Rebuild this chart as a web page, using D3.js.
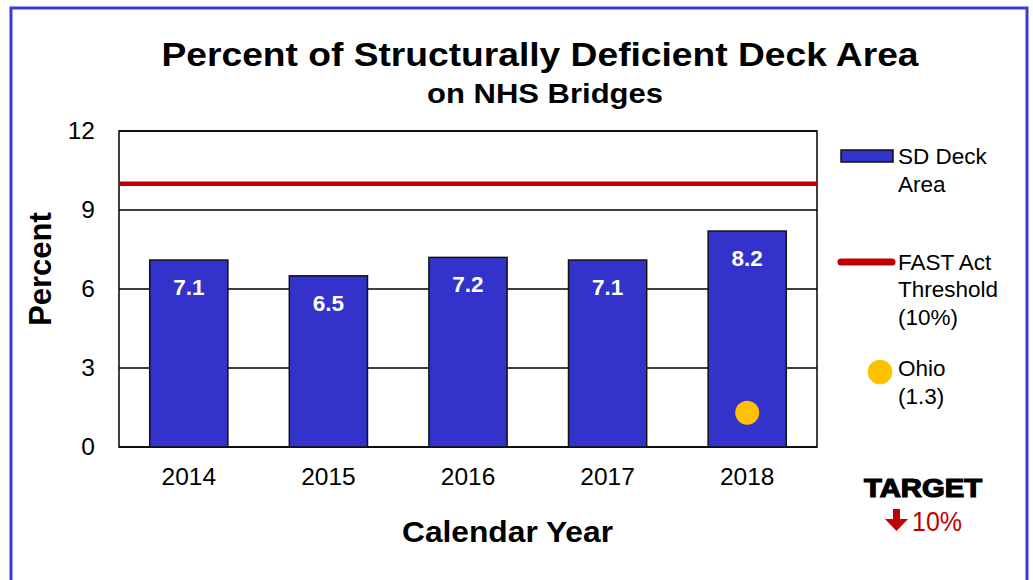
<!DOCTYPE html>
<html lang="en">
<head>
    <meta charset="UTF-8">
    <title>SD Deck Area</title>
    <style>
        body {
          margin: 0;
          background: #fff;
        }
        svg, svg text {
          font-family: "Liberation Sans", Arial, Helvetica, sans-serif;
        }
        .tick text { font-size: 24.5px; fill: #000; }
        .grid line { stroke: #000; stroke-width: 1.5px; }
    </style>
</head>
<body>
    <script src="https://d3js.org/d3.v7.min.js"></script>
    <script>
        var years = ["2014", "2015", "2016", "2017", "2018"];
        var sdDeckArea = [7.1, 6.5, 7.2, 7.1, 8.2];
        var ohio = [{year: "2018", value: 1.3}];
        var threshold = 10;
        var yTicks = [0, 3, 6, 9, 12];

        var width = 1033,
            height = 580,
            plot = {left: 119, right: 817, top: 131, bottom: 447};

        var svg = d3.select("body").append("svg")
            .attr("width", width)
            .attr("height", height);

        // outer frame
        svg.append("rect")
            .attr("x", 11).attr("y", 8)
            .attr("width", 1016).attr("height", 600)
            .attr("fill", "none")
            .attr("stroke", "#3a3ad4")
            .attr("stroke-width", 3);

        var x = d3.scaleBand()
            .domain(years)
            .range([plot.left, plot.right])
            .paddingInner(0.44)
            .paddingOuter(0.22);

        var y = d3.scaleLinear()
            .domain([0, 12])
            .range([plot.bottom, plot.top]);

        // gridlines
        svg.append("g")
            .attr("class", "grid")
          .selectAll("line")
          .data(yTicks)
          .join("line")
            .attr("x1", plot.left).attr("x2", plot.right)
            .attr("y1", function(d) { return y(d); })
            .attr("y2", function(d) { return y(d); });

        svg.append("rect")
            .attr("x", plot.left).attr("y", plot.top)
            .attr("width", plot.right - plot.left)
            .attr("height", plot.bottom - plot.top)
            .attr("fill", "none")
            .attr("stroke", "#000")
            .attr("stroke-width", 1.5);

        // threshold line
        svg.append("line")
            .attr("x1", plot.left).attr("x2", plot.right)
            .attr("y1", y(threshold)).attr("y2", y(threshold))
            .attr("stroke", "#c00000")
            .attr("stroke-width", 4.5);

        // bars
        svg.append("g")
          .selectAll("rect")
          .data(years)
          .join("rect")
            .attr("x", function(d) { return x(d); })
            .attr("y", function(d, i) { return y(sdDeckArea[i]); })
            .attr("width", x.bandwidth())
            .attr("height", function(d, i) { return y(0) - y(sdDeckArea[i]); })
            .attr("fill", "#3333cc")
            .attr("stroke", "#111")
            .attr("stroke-width", 1.5);

        svg.append("g")
          .selectAll("text")
          .data(years)
          .join("text")
            .attr("x", function(d) { return x(d) + x.bandwidth() / 2; })
            .attr("y", function(d, i) { return y(sdDeckArea[i]) + 35; })
            .attr("text-anchor", "middle")
            .attr("fill", "#fff")
            .attr("font-size", 22.5)
            .attr("font-weight", "bold")
            .text(function(d, i) { return sdDeckArea[i].toFixed(1); });

        // Ohio point
        svg.append("g")
          .selectAll("circle")
          .data(ohio)
          .join("circle")
            .attr("cx", function(d) { return x(d.year) + x.bandwidth() / 2; })
            .attr("cy", function(d) { return y(d.value); })
            .attr("r", 12)
            .attr("fill", "#ffc000");

        // axes
        var yAxis = svg.append("g")
            .attr("transform", "translate(" + plot.left + ",0)")
            .call(d3.axisLeft(y).tickValues(yTicks).tickSize(0).tickPadding(24));
        yAxis.select(".domain").remove();
        yAxis.attr("font-family", null);

        var xAxis = svg.append("g")
            .attr("transform", "translate(0," + plot.bottom + ")")
            .call(d3.axisBottom(x).tickSize(0).tickPadding(21));
        xAxis.select(".domain").remove();
        xAxis.attr("font-family", null);

        // titles
        svg.append("text")
            .attr("x", 540).attr("y", 66)
            .attr("text-anchor", "middle")
            .attr("font-size", 34).attr("font-weight", "bold")
            .attr("textLength", 757).attr("lengthAdjust", "spacingAndGlyphs")
            .text("Percent of Structurally Deficient Deck Area");
        svg.append("text")
            .attr("x", 545).attr("y", 103)
            .attr("text-anchor", "middle")
            .attr("font-size", 27).attr("font-weight", "bold")
            .attr("textLength", 236).attr("lengthAdjust", "spacingAndGlyphs")
            .text("on NHS Bridges");
        svg.append("text")
            .attr("transform", "translate(51,269)rotate(-90)")
            .attr("text-anchor", "middle")
            .attr("font-size", 31).attr("font-weight", "bold")
            .text("Percent");
        svg.append("text")
            .attr("x", 507.5).attr("y", 542)
            .attr("text-anchor", "middle")
            .attr("font-size", 30).attr("font-weight", "bold")
            .attr("textLength", 211).attr("lengthAdjust", "spacingAndGlyphs")
            .text("Calendar Year");

        // legend
        var legend = svg.append("g").attr("font-size", 22.5).attr("fill", "#000");
        legend.append("rect")
            .attr("x", 841).attr("y", 150).attr("width", 52).attr("height", 12)
            .attr("fill", "#3333cc").attr("stroke", "#111").attr("stroke-width", 1.5);
        legend.append("line")
            .attr("x1", 841).attr("x2", 892).attr("y1", 262).attr("y2", 262)
            .attr("stroke", "#c00000").attr("stroke-width", 7).attr("stroke-linecap", "round");
        legend.append("circle")
            .attr("cx", 880).attr("cy", 372).attr("r", 12.3).attr("fill", "#ffc000");

        var legendText = [
            {y: 164, t: "SD Deck"}, {y: 192, t: "Area"},
            {y: 270, t: "FAST Act"}, {y: 297, t: "Threshold"}, {y: 325, t: "(10%)"},
            {y: 376, t: "Ohio"}, {y: 404, t: "(1.3)"}
        ];
        legend.selectAll("text")
          .data(legendText)
          .join("text")
            .attr("x", 898)
            .attr("y", function(d) { return d.y; })
            .text(function(d) { return d.t; });

        // target
        svg.append("text")
            .attr("x", 923).attr("y", 497)
            .attr("text-anchor", "middle")
            .attr("font-size", 25).attr("font-weight", "bold")
            .attr("stroke", "#000").attr("stroke-width", 1.2)
            .attr("textLength", 118)
            .attr("lengthAdjust", "spacingAndGlyphs")
            .text("TARGET");
        svg.append("path")
            .attr("d", "M893,509 h7 v10 h8 l-11.5,12 l-11.5,-12 h8 z")
            .attr("fill", "#c00000");
        svg.append("text")
            .attr("x", 912).attr("y", 531)
            .attr("font-size", 28).attr("fill", "#c00000")
            .attr("textLength", 50).attr("lengthAdjust", "spacingAndGlyphs")
            .text("10%");
    </script>
</body>
</html>
